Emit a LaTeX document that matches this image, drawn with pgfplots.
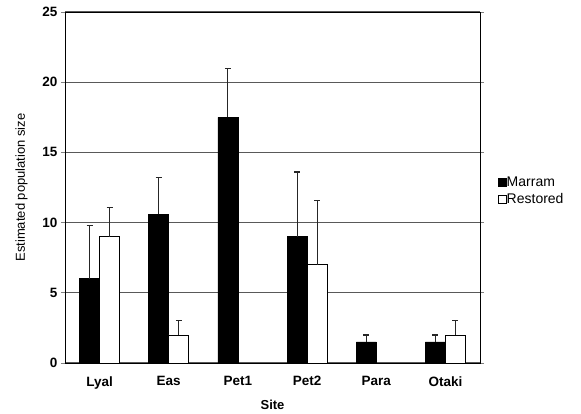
\documentclass[border=0pt]{standalone}
\usepackage{pgfplots}
\pgfplotsset{compat=1.18}
\usepackage{fontspec}
\setmainfont{Liberation Sans}
\pgfplotsset{boxlegend/.style={legend image code/.code={%
    \draw[##1, line width=1pt] (0pt,-4pt) rectangle (8pt,4pt);}}}

\begin{document}
\begin{tikzpicture}
\path[use as bounding box] (-65pt,-51pt) rectangle (516pt,363pt);
\begin{axis}[
    at={(0pt,0pt)}, anchor=south west,
    scale only axis,
    width=415pt, height=351pt,
    ybar=0pt, bar width=20pt,
    xmin=-0.5, xmax=5.5,
    ymin=0, ymax=25,
    ytick={0,5,...,25},
    xtick={0,1,2,3,4,5},
    xticklabels={Lyal,Eas,Pet1,Pet2,Para,Otaki},
    x tick style={draw=none},
    extra x ticks={0.5,1.5,2.5,3.5,4.5},
    extra x tick labels={},
    extra x tick style={grid=none, tick style={draw=black, line width=0.8pt}},
    tick align=outside,
    major tick length=4pt,
    y tick style={line width=0.8pt},
    ymajorgrids=true,
    grid style={draw=black!65, line width=1pt},
    axis line style={line width=0.9pt},
    tick label style={font=\fontsize{13.5}{15}\selectfont\bfseries},
    /pgf/number format/assume math mode=true,
    xticklabel style={yshift=-6pt},
    xlabel={Site},
    ylabel={Estimated population size},
    label style={font=\fontsize{13}{15}\selectfont},
    xlabel style={yshift=4pt, font=\fontsize{13}{15}\selectfont\bfseries},
    ylabel style={yshift=8pt},
    legend style={at={(1.035,0.49)}, anchor=west, draw=none,
        font=\fontsize{14}{17}\selectfont, row sep=2pt,
        /tikz/every odd column/.append style={column sep=-2pt}},
    legend cell align=left,
    error bars/y dir=plus,
    error bars/y explicit,
    error bars/error mark=-,
    error bars/error mark options={rotate=90, mark size=3pt, line width=1.2pt},
    error bars/error bar style={line width=1.1pt, black!85},
]
\addplot[fill=black, draw=black, line width=0.8pt, boxlegend] coordinates {
    (0,6) +- (0,3.8)
    (1,10.6) +- (0,2.6)
    (2,17.5) +- (0,3.5)
    (3,9) +- (0,4.6)
    (4,1.5) +- (0,0.5)
    (5,1.5) +- (0,0.5)
};
\addplot[fill=white, draw=black, line width=0.8pt, boxlegend] coordinates {
    (0,9) +- (0,2.1)
    (1,2) +- (0,1)
    (3,7) +- (0,4.6)
    (5,2) +- (0,1)
};
\legend{Marram,Restored}
\end{axis}
\end{tikzpicture}
\end{document}
